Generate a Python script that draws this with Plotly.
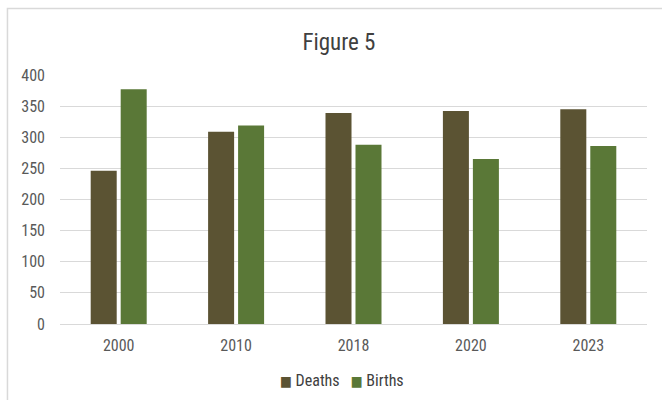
import plotly.graph_objects as go

years = ["2000", "2010", "2018", "2020", "2023"]
deaths = [246, 309, 339, 342, 345]
births = [377, 319, 288, 265, 286]

FONT = "Roboto Condensed, Liberation Sans Narrow, DejaVu Sans Condensed, sans-serif"
COL_D = "#5b5333"
COL_B = "#5a7837"

fig = go.Figure()
fig.add_trace(go.Bar(x=years, y=deaths, name="Deaths", marker=dict(color=COL_D, line=dict(width=0))))
fig.add_trace(go.Bar(x=years, y=births, name="Births", marker=dict(color=COL_B, line=dict(width=0))))

legend_text = "&nbsp;&nbsp;&nbsp;".join(
    f"<span style='color:{t.marker.color};font-size:14px'>■</span>&nbsp;<span style='color:#404040'>{t.name}</span>"
    for t in fig.data
)

fig.update_layout(
    width=662, height=400,
    margin=dict(l=60, r=15, t=75, b=76),
    paper_bgcolor="white", plot_bgcolor="white",
    barmode="group", bargap=0.489, bargroupgap=0.133,
    title=dict(text="Figure 5", x=0.512, xanchor="center", y=0.895, yanchor="middle",
               font=dict(family=FONT, size=23, color="#404040")),
    font=dict(family=FONT, size=16, color="#595959"),
    xaxis=dict(showline=True, linecolor="#d9d9d9", linewidth=1, ticks="", ticklabelstandoff=7,
               tickfont=dict(size=16, color="#595959")),
    yaxis=dict(range=[0, 400], dtick=50, gridcolor="#d9d9d9", gridwidth=1, zeroline=False,
               ticks="", ticklabelstandoff=14, tickfont=dict(size=16, color="#595959")),
    showlegend=False,
    annotations=[dict(text=legend_text, xref="paper", yref="paper", x=0.48, y=-0.225,
                      xanchor="center", yanchor="middle", showarrow=False,
                      font=dict(family=FONT, size=16))],
    shapes=[dict(type="rect", xref="paper", yref="paper", x0=-0.0895, x1=1.2, y0=-0.5, y1=1.267,
                 line=dict(color="#d9d9d9", width=1.5), fillcolor="rgba(0,0,0,0)", layer="below")],
)

fig.write_html("out.html")
